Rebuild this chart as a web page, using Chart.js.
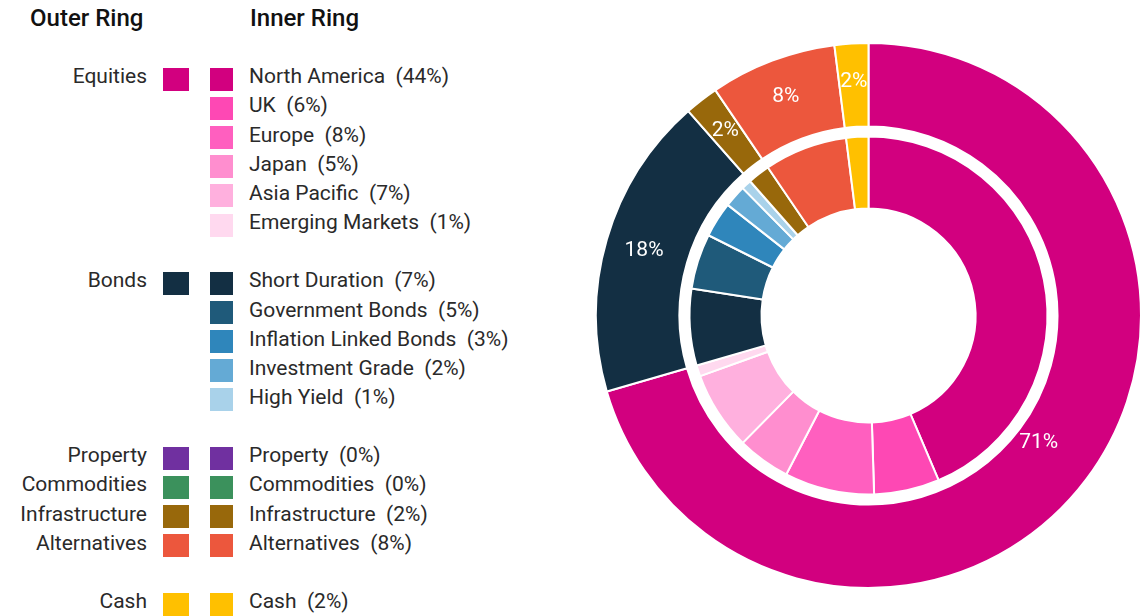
<!DOCTYPE html>
<html>
<head>
<meta charset="utf-8">
<script src="https://cdn.jsdelivr.net/npm/chart.js@4.4.1/dist/chart.umd.min.js"></script>
<style>
  html, body { margin: 0; padding: 0; background: #fff; width: 1140px; height: 616px; overflow: hidden; }
  body { position: relative; font-family: Roboto, "Noto Sans", sans-serif; color: #2a2a2a; }
  .hdr { position: absolute; top: 2px; font-size: 24px; font-weight: 500; color: #111; line-height: 32px; }
  .lbl { position: absolute; font-size: 21px; line-height: 29px; white-space: pre; }
  .sw { position: absolute; height: 23px; }
  #wrap { position: absolute; left: 595px; top: 42px; width: 547px; height: 547px; }
</style>
</head>
<body>
<div class="hdr" style="left:30px">Outer Ring</div>
<div class="hdr" style="left:250px">Inner Ring</div>
<div id="legend"></div>
<div id="wrap"><canvas id="chart1" width="547" height="547"></canvas></div>
<script>
// outer ring: asset classes
const outerLabels = ['Equities', 'Bonds', 'Property', 'Commodities', 'Infrastructure', 'Alternatives', 'Cash'];
const outerValues = [70.5, 18, 0, 0, 2, 7.5, 2];
const outerColors = ['#d2007f', '#132f43', '#7030a0', '#3b915c', '#98680b', '#ec573d', '#ffc000'];

// inner ring: breakdown, innerGroup = index of the outer class
const innerLabels = ['North America', 'UK', 'Europe', 'Japan', 'Asia Pacific', 'Emerging Markets',
  'Short Duration', 'Government Bonds', 'Inflation Linked Bonds', 'Investment Grade', 'High Yield',
  'Property', 'Commodities', 'Infrastructure', 'Alternatives', 'Cash'];
const innerValues = [43.6, 5.9, 8.1, 4.8, 7.1, 1.0, 6.9, 5.0, 3.2, 2.0, 0.9, 0, 0, 2.0, 7.5, 2.0];
const innerColors = ['#d2007f', '#fe48b4', '#ff5fbf', '#ff8ecf', '#ffb0de', '#ffd9ef',
  '#132f43', '#1f5a7a', '#2f86bb', '#64aad5', '#a9d2ea',
  '#7030a0', '#3b915c', '#98680b', '#ec573d', '#ffc000'];
const innerGroup = [0, 0, 0, 0, 0, 0, 1, 1, 1, 1, 1, 2, 3, 4, 5, 6];

// ---- legend (left side) ----
const rowH = 29.15, firstRow = 79.3;
const blankBefore = [0, 1, 1, 0, 0, 0, 1];
const legend = document.getElementById('legend');

function addEl(cls, css, text) {
  const d = document.createElement('div');
  d.className = cls;
  d.style.cssText = css;
  if (text) d.textContent = text;
  legend.appendChild(d);
}

let row = 0, prev = -1;
innerLabels.forEach((name, i) => {
  const g = innerGroup[i];
  if (g !== prev) {
    row += blankBefore[g];
    const yc = firstRow + row * rowH;
    addEl('lbl', `right:${1140 - 147}px;top:${yc - 17}px;text-align:right`, outerLabels[g]);
    addEl('sw', `left:163px;width:26px;top:${yc - 11.5}px;background:${outerColors[g]}`);
    prev = g;
  }
  const yc = firstRow + row * rowH;
  addEl('sw', `left:210px;width:23px;top:${yc - 11.5}px;background:${innerColors[i]}`);
  addEl('lbl', `left:249px;top:${yc - 17}px`, `${name}  (${Math.round(innerValues[i])}%)`);
  row++;
});

// ---- percentage labels on the outer ring ----
const labelShift = [-18, 3, 0, 0, 3, 3, 3];
const ringLabels = {
  id: 'ringLabels',
  afterDatasetsDraw(chart) {
    const ctx = chart.ctx;
    const meta = chart.getDatasetMeta(0);
    ctx.save();
    ctx.fillStyle = '#fff';
    ctx.font = '21px Roboto, sans-serif';
    ctx.textAlign = 'center';
    ctx.textBaseline = 'middle';
    meta.data.forEach((arc, i) => {
      const v = outerValues[i];
      if (!v) return;
      const mid = (arc.startAngle + arc.endAngle) / 2;
      const r = (arc.innerRadius + arc.outerRadius) / 2 + labelShift[i];
      ctx.fillText(Math.round(v) + '%', arc.x + Math.cos(mid) * r, arc.y + Math.sin(mid) * r);
    });
    ctx.restore();
  }
};

const config = {
  type: 'doughnut',
  data: {
    labels: outerLabels,
    datasets: [
      { data: outerValues, backgroundColor: outerColors, weight: 83.5 },
      // transparent spacer between the rings
      { data: [100], backgroundColor: 'rgba(0,0,0,0)', borderWidth: 0, weight: 10 },
      { data: innerValues, backgroundColor: innerColors, weight: 72 }
    ]
  },
  options: {
    responsive: false,
    animation: false,
    cutout: '39.27%',
    events: [],
    elements: { arc: { borderWidth: 2, borderColor: '#fff' } },
    plugins: {
      legend: { display: false },
      tooltip: { enabled: false }
    }
  },
  plugins: [ringLabels]
};

const myChart = new Chart(document.getElementById('chart1'), config);
</script>
</body>
</html>
